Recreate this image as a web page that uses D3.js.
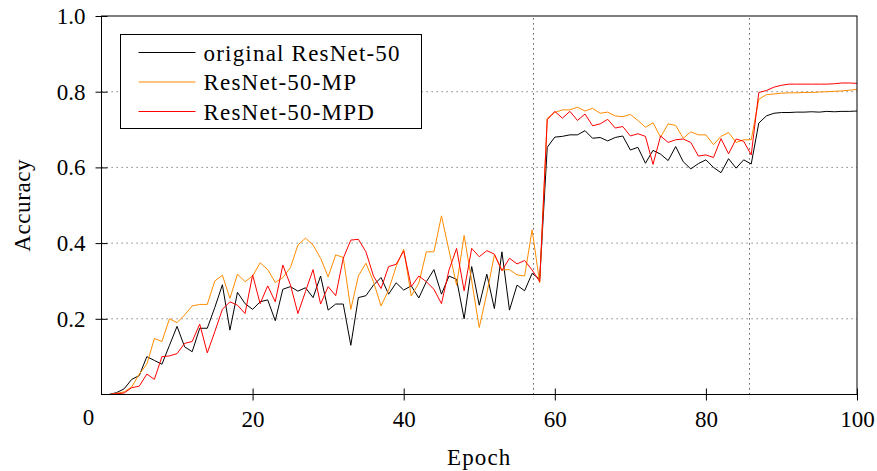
<!DOCTYPE html>
<html>
<head>
<meta charset="utf-8">
<script src="https://cdn.jsdelivr.net/npm/d3@7"></script>
<style>
  body { margin: 0; background: #fff; }
  svg text { fill: #000; }
</style>
</head>
<body>
<div id="chart"></div>
<script>
// accuracy per epoch (epochs 1..100)
var epochs = d3.range(1, 101);

var original = [
  0.0, 0.005, 0.015, 0.04, 0.05, 0.10, 0.09, 0.08, 0.13, 0.18,
  0.126, 0.113, 0.175, 0.175, 0.23, 0.29, 0.17, 0.27, 0.24, 0.225,
  0.245, 0.25, 0.195, 0.278, 0.285, 0.273, 0.282, 0.256, 0.313, 0.223,
  0.239, 0.239, 0.13, 0.256, 0.261, 0.289, 0.309, 0.265, 0.295, 0.276,
  0.287, 0.255, 0.298, 0.33, 0.265, 0.313, 0.304, 0.20, 0.338, 0.236,
  0.318, 0.227, 0.377, 0.223, 0.289, 0.274, 0.32, 0.305, 0.653, 0.68,
  0.682, 0.686, 0.686, 0.697, 0.677, 0.679, 0.67, 0.679, 0.683, 0.646,
  0.653, 0.611, 0.645, 0.635, 0.618, 0.655, 0.615, 0.596, 0.61, 0.62,
  0.60, 0.586, 0.623, 0.598, 0.62, 0.609, 0.717, 0.736, 0.743, 0.745,
  0.745, 0.746, 0.746, 0.747, 0.746, 0.748, 0.747, 0.748, 0.748, 0.749
];

var resnetMP = [
  0.0, 0.003, 0.007, 0.02, 0.054, 0.08, 0.148, 0.14, 0.20, 0.19,
  0.21, 0.234, 0.238, 0.238, 0.30, 0.315, 0.254, 0.318, 0.298, 0.313,
  0.348, 0.33, 0.296, 0.309, 0.335, 0.395, 0.413, 0.395, 0.36, 0.311,
  0.369, 0.362, 0.225, 0.313, 0.347, 0.298, 0.234, 0.276, 0.338, 0.384,
  0.26, 0.294, 0.377, 0.377, 0.472, 0.38, 0.289, 0.42, 0.30, 0.177,
  0.267, 0.369, 0.329, 0.33, 0.316, 0.313, 0.435, 0.295, 0.73, 0.745,
  0.752, 0.752, 0.759, 0.749, 0.756, 0.743, 0.746, 0.736, 0.734, 0.74,
  0.724, 0.706, 0.718, 0.68, 0.715, 0.711, 0.677, 0.694, 0.686, 0.686,
  0.66, 0.682, 0.692, 0.666, 0.673, 0.673, 0.78, 0.792, 0.794, 0.796,
  0.797, 0.797, 0.798, 0.798, 0.799, 0.800, 0.801, 0.802, 0.804, 0.806
];

var resnetMPD = [
  0.0, 0.002, 0.004, 0.018, 0.022, 0.054, 0.04, 0.10, 0.102, 0.108,
  0.135, 0.14, 0.186, 0.11, 0.166, 0.225, 0.245, 0.236, 0.214, 0.316,
  0.24, 0.287, 0.245, 0.342, 0.29, 0.214, 0.272, 0.33, 0.239, 0.285,
  0.261, 0.36, 0.408, 0.41, 0.377, 0.313, 0.28, 0.338, 0.344, 0.379,
  0.285, 0.313, 0.298, 0.278, 0.24, 0.329, 0.386, 0.274, 0.386, 0.364,
  0.38, 0.371, 0.327, 0.36, 0.345, 0.354, 0.329, 0.298, 0.726, 0.748,
  0.73, 0.748, 0.724, 0.741, 0.71, 0.715, 0.727, 0.704, 0.708, 0.683,
  0.689, 0.682, 0.608, 0.683, 0.666, 0.673, 0.675, 0.666, 0.63, 0.633,
  0.626, 0.676, 0.636, 0.675, 0.669, 0.633, 0.798, 0.803, 0.812, 0.817,
  0.82, 0.82, 0.82, 0.82, 0.82, 0.82, 0.821, 0.823, 0.823, 0.822
];

var seriesNames = ["original ResNet-50", "ResNet-50-MP", "ResNet-50-MPD"];
var seriesColors = ["#000000", "#ff8c00", "#ff0000"];
var xTicks = [20, 40, 60, 80, 100];
var yTicks = [0.2, 0.4, 0.6, 0.8, 1.0];
var yGrid = [0.2, 0.4, 0.6, 0.8];
var stepEpochs = [400 / 7, 600 / 7];   // dotted markers where the lr drops

// try every serif we might have; falls back to whatever the box has
var FONT = "Liberation Serif, Tinos, Times New Roman, Times, Noto Serif, DejaVu Serif, FreeSerif, Nimbus Roman, serif";

var width = 877, height = 471;
var margin = { top: 16, right: 20, bottom: 76.5, left: 101.5 };

var svg = d3.select("#chart")
  .append("svg")
  .attr("width", width)
  .attr("height", height)
  .style("font-family", FONT);

var x = d3.scaleLinear()
  .domain([0, 100])
  .range([margin.left, width - margin.right]);

var y = d3.scaleLinear()
  .domain([0, 1])
  .range([height - margin.bottom, margin.top]);

// horizontal grid
svg.append("g")
  .selectAll("line")
  .data(yGrid)
  .enter()
  .append("line")
  .attr("x1", x(0)).attr("x2", x(100))
  .attr("y1", function (d) { return y(d); })
  .attr("y2", function (d) { return y(d); })
  .attr("stroke", "#666")
  .attr("stroke-width", 1)
  .attr("stroke-dasharray", "1.2,3.8");

// vertical markers
svg.append("g")
  .selectAll("line")
  .data(stepEpochs)
  .enter()
  .append("line")
  .attr("x1", function (d) { return Math.round(x(d)) + 0.5; })
  .attr("x2", function (d) { return Math.round(x(d)) + 0.5; })
  .attr("y1", y(0)).attr("y2", y(1))
  .attr("stroke", "#333")
  .attr("stroke-width", 1)
  .attr("stroke-dasharray", "1.2,3.8");

// lines
var line = d3.line()
  .x(function (d) { return x(d[0]); })
  .y(function (d) { return y(d[1]); });

[original, resnetMP, resnetMPD].forEach(function (vals, i) {
  svg.append("path")
    .datum(epochs.map(function (e, j) { return [e, vals[j]]; }))
    .attr("fill", "none")
    .attr("stroke", seriesColors[i])
    .attr("stroke-width", 1)
    .attr("stroke-linejoin", "round")
    .attr("d", line);
});

// frame
svg.append("rect")
  .attr("x", x(0)).attr("y", y(1))
  .attr("width", x(100) - x(0))
  .attr("height", y(0) - y(1))
  .attr("fill", "none")
  .attr("stroke", "#000")
  .attr("stroke-width", 1);

// axes
var xAxis = svg.append("g")
  .attr("transform", "translate(0," + y(0) + ")")
  .call(d3.axisBottom(x).tickValues(xTicks).tickSize(6).tickPadding(10)
    .tickFormat(d3.format("d")));
xAxis.attr("font-family", null).attr("font-size", 23);
xAxis.select(".domain").remove();
xAxis.selectAll(".tick line").attr("y1", -6).attr("y2", 6);

// the lone "0" sits left of the corner
svg.append("text")
  .attr("x", x(0) - 13)
  .attr("y", y(0) + 30)
  .attr("text-anchor", "middle")
  .attr("font-size", 23)
  .text("0");

var yAxis = svg.append("g")
  .attr("transform", "translate(" + x(0) + ",0)")
  .call(d3.axisLeft(y).tickValues(yTicks).tickSize(6).tickPadding(10)
    .tickFormat(d3.format(".1f")));
yAxis.attr("font-family", null).attr("font-size", 23);
yAxis.select(".domain").remove();
yAxis.selectAll(".tick line").attr("x1", -6).attr("x2", 6);

// axis titles
svg.append("text")
  .attr("x", (x(0) + x(100)) / 2)
  .attr("y", 465)
  .attr("text-anchor", "middle")
  .attr("font-size", 23)
  .attr("letter-spacing", "1.1px")
  .text("Epoch");

svg.append("text")
  .attr("transform", "translate(30," + ((y(0) + y(1)) / 2) + ") rotate(-90)")
  .attr("text-anchor", "middle")
  .attr("font-size", 23)
  .attr("letter-spacing", "0.6px")
  .text("Accuracy");

// legend
var legend = svg.append("g").attr("transform", "translate(120.5,34.5)");
legend.append("rect")
  .attr("width", 301).attr("height", 94)
  .attr("fill", "#fff")
  .attr("stroke", "#000")
  .attr("stroke-width", 1);

var rows = legend.selectAll("g.row")
  .data(seriesNames)
  .enter()
  .append("g")
  .attr("class", "row")
  .attr("transform", function (d, i) { return "translate(0," + (18 + i * 29.5) + ")"; });

rows.append("line")
  .attr("x1", 18).attr("x2", 75)
  .attr("stroke", function (d, i) { return seriesColors[i]; })
  .attr("stroke-width", 1);

rows.append("text")
  .attr("x", 83)
  .attr("y", 8)
  .attr("font-size", 23)
  .attr("letter-spacing", "1.2px")
  .text(function (d) { return d; });
</script>
</body>
</html>
